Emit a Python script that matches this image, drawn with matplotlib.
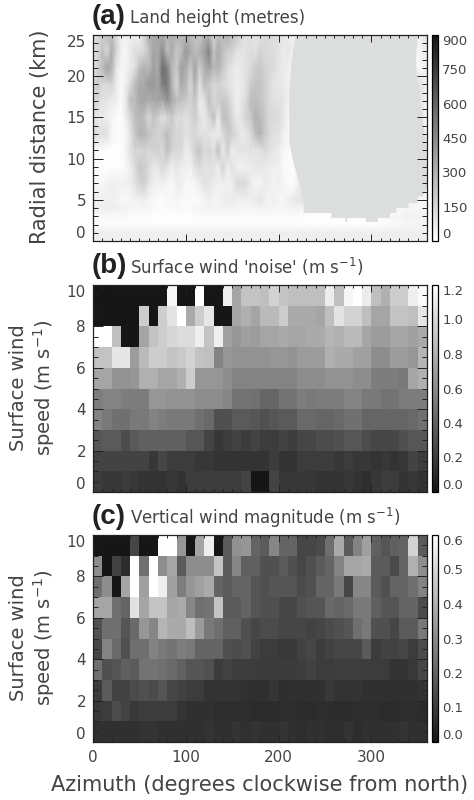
import numpy as np
import matplotlib
matplotlib.use("Agg")
import matplotlib.pyplot as plt
from matplotlib.colors import LinearSegmentedColormap

plt.rcParams['font.family'] = ['DejaVu Sans']
plt.rcParams['mathtext.default'] = 'regular'

W, H = 474, 800
TXT = '#444444'

# panel (a): land height in metres, rows are radial distance, top row first
radial_km = [25, 23, 21, 19, 17, 15, 13, 11, 9, 7, 5, 4, 3, 2, 1, 0]
azimuth_deg = [0, 5, 10, 15, 20, 25, 30, 35, 40, 45, 50, 55, 60, 65, 70, 75, 80, 85, 90, 95, 100, 105,
               110, 115, 120, 125, 130, 135, 140, 145, 150, 155, 160, 165, 170, 175, 180, 185, 190, 195, 200, 205, 210, 215,
               230, 250, 270, 290, 310, 330, 340, 350, 360]
height_m = [
    [150, 150, 170, 260, 250, 150, 70, 60, 70, 60, 60, 150, 300, 320, 340, 320, 280, 300, 300, 280, 280, 260,
     230, 210, 300, 290, 150, 250, 250, 300, 250, 210, 150, 115, 115, 95, 115, 150, 135, 115, 115, 95, 75, 60,
     130, 130, 130, 130, 130, 130, 130, 40, 100],
    [110, 150, 250, 150, 320, 170, 60, 30, 90, 130, 120, 150, 230, 350, 330, 440, 250, 330, 210, 250, 400, 330,
     250, 300, 365, 480, 230, 330, 250, 190, 170, 115, 95, 115, 135, 115, 170, 150, 135, 135, 115, 75, 95, 60,
     130, 130, 130, 130, 130, 130, 130, 30, 90],
    [95, 170, 250, 365, 290, 95, 40, 40, 75, 115, 250, 300, 270, 365, 330, 560, 480, 270, 210, 365, 330, 210,
     365, 190, 300, 365, 270, 290, 210, 135, 95, 75, 95, 115, 150, 190, 210, 170, 150, 135, 95, 75, 60, 40,
     130, 130, 130, 130, 130, 130, 130, 20, 60],
    [115, 210, 150, 150, 170, 75, 20, 60, 135, 250, 330, 330, 400, 400, 350, 500, 520, 300, 150, 330, 290, 150,
     300, 115, 250, 210, 150, 170, 150, 115, 95, 60, 75, 115, 190, 230, 230, 190, 135, 95, 95, 75, 60, 40,
     130, 130, 130, 130, 130, 130, 130, 130, 50],
    [150, 150, 115, 95, 75, 60, 20, 75, 250, 250, 330, 350, 300, 330, 350, 330, 420, 330, 250, 230, 210, 170,
     230, 75, 115, 250, 150, 190, 210, 190, 115, 60, 95, 150, 250, 250, 230, 190, 135, 115, 115, 95, 60, 20,
     130, 130, 130, 130, 130, 130, 130, 130, 40],
    [115, 75, 75, 60, 40, 20, 10, 60, 150, 250, 270, 250, 150, 230, 190, 115, 150, 210, 135, 135, 115, 150,
     190, 115, 75, 150, 250, 75, 250, 230, 150, 75, 115, 170, 210, 300, 270, 210, 150, 150, 135, 95, 40, 20,
     130, 130, 130, 130, 130, 130, 130, 130, 30],
    [130, 130, 130, 120, 40, 20, 10, 30, 100, 210, 290, 290, 240, 200, 170, 200, 250, 190, 150, 160, 110, 130,
     150, 115, 115, 95, 75, 60, 135, 210, 190, 135, 75, 95, 150, 250, 300, 210, 150, 115, 115, 60, 40, 20,
     130, 130, 130, 130, 130, 130, 130, 130, 20],
    [30, 20, 10, 5, 5, 5, 10, 40, 110, 170, 150, 170, 150, 170, 180, 150, 250, 170, 150, 150, 70, 100,
     190, 230, 135, 170, 115, 250, 75, 190, 60, 95, 115, 95, 115, 95, 115, 150, 115, 95, 75, 40, 20, 0,
     130, 130, 130, 130, 130, 130, 130, 130, 130],
    [5, 5, 5, 5, 5, 5, 10, 30, 70, 130, 210, 190, 150, 90, 100, 150, 110, 60, 100, 70, 70, 50,
     115, 150, 115, 115, 115, 60, 170, 60, 115, 60, 40, 60, 75, 95, 95, 75, 75, 60, 60, 20, 20, 10,
     130, 130, 130, 130, 130, 130, 130, 130, 130],
    [35, 35, 35, 45, 60, 60, 50, 50, 70, 110, 170, 190, 110, 70, 50, 60, 40, 30, 60, 70, 30, 30,
     40, 75, 115, 115, 75, 60, 60, 60, 60, 150, 150, 135, 75, 40, 40, 75, 60, 40, 60, 40, 20, 10,
     130, 130, 130, 130, 130, 130, 130, 130, 30],
    [60, 60, 55, 60, 60, 50, 30, 30, 40, 50, 50, 60, 40, 25, 15, 10, 30, 30, 40, 30, 30, 20,
     20, 20, 40, 60, 40, 40, 60, 75, 75, 60, 60, 60, 60, 75, 95, 60, 40, 60, 40, 40, 60, 75,
     130, 130, 130, 130, 130, 130, 30, 30, 30],
    [70, 70, 70, 70, 70, 60, 50, 50, 40, 35, 35, 40, 35, 25, 20, 15, 15, 20, 25, 25, 20, 20,
     40, 40, 50, 50, 50, 50, 50, 50, 50, 45, 45, 45, 45, 45, 50, 50, 40, 40, 40, 40, 40, 50,
     40, 20, 10, 15, 15, 25, 40, 40, 40],
    [25, 25, 25, 25, 25, 25, 25, 25, 15, 15, 15, 15, 15, 10, 10, 10, 10, 10, 10, 10, 10, 10,
     15, 15, 15, 15, 15, 15, 15, 15, 15, 15, 15, 15, 15, 15, 15, 15, 15, 15, 15, 15, 15, 15,
     10, 10, 10, 10, 20, 40, 50, 50, 50],
    [10, 10, 10, 10, 10, 10, 10, 10, 10, 10, 10, 10, 10, 10, 10, 10, 10, 10, 10, 10, 10, 10,
     10, 10, 10, 10, 10, 10, 10, 10, 10, 10, 10, 10, 10, 10, 10, 10, 10, 10, 10, 10, 10, 10,
     10, 10, 10, 10, 10, 30, 40, 40, 40],
    [70, 70, 70, 70, 70, 70, 70, 70, 70, 70, 70, 70, 70, 70, 70, 70, 70, 70, 70, 70, 70, 70,
     70, 70, 70, 70, 70, 70, 70, 70, 70, 70, 70, 70, 70, 70, 70, 70, 70, 70, 70, 70, 70, 70,
     70, 70, 70, 70, 70, 70, 70, 70, 70],
    [55, 55, 55, 55, 55, 55, 55, 55, 55, 55, 55, 55, 55, 55, 55, 55, 55, 55, 55, 55, 55, 55,
     50, 50, 50, 50, 50, 50, 50, 50, 50, 50, 50, 50, 50, 50, 50, 50, 50, 50, 50, 50, 50, 50,
     60, 60, 60, 60, 60, 60, 60, 60, 60],
]

# outline of the flat sea area in panel (a)
sea_az = [219, 214, 211.5, 211.5, 215, 220, 225, 227, 227, 257, 257, 272, 272, 274, 274, 294, 294, 307,
          307, 320, 320, 327, 327, 340, 340, 350, 350, 355, 358, 360, 360, 358, 355, 349.5, 348, 350]
sea_km = [25, 22, 18, 12, 10, 8, 6, 5, 3.4, 3.4, 2.8, 2.8, 2.3, 2.3, 2.8, 2.8, 2.3, 2.3,
          2.8, 2.8, 3.4, 3.4, 4, 4, 4.6, 4.6, 5.4, 5.4, 6, 6.5, 11, 13, 15, 20, 22, 25]

# panels (b) and (c): 10 degree azimuth bins, 1 m/s speed bins, top row first
noise = [
    [0, 0, 0, 0, 0, 0, 0, 0, 1.15, 0, 0, 1.2, 0, 0, 1.12, .74, .89, .89, .87, .97, .89, .87, .87, .87, .87, 1.10, .87, 1.15, 1.2, 1.10, .87, .79, .94, .94, 1.12, 1.17],
    [0, 0, 0, 0, 0, .94, 0, .94, 1.05, 1.2, .76, .94, 1.07, 0, 0, .74, .79, .74, .84, .84, .94, .76, .76, .76, .74, .87, 1.05, .97, .97, .87, .74, .74, .89, .89, .87, 1.07],
    [1.2, 1.2, .87, 0, 0, .74, .89, .94, .99, 1.02, 1.02, 1.12, .89, 1.12, .71, .66, .71, .69, .74, .74, .76, .74, .74, .76, .76, .82, .79, .84, .84, .74, .69, .69, .74, .74, .71, .76],
    [.89, .89, 1.07, 1.07, .69, .84, .94, .94, .89, .92, .97, .89, .87, .56, .66, .64, .64, .64, .64, .66, .66, .64, .69, .69, .69, .79, .76, .76, .71, .71, .61, .61, .69, .69, .66, .82],
    [.74, .74, .64, .64, .66, .79, .79, .74, .74, .79, .94, .66, .66, .66, .61, .56, .56, .56, .56, .56, .56, .56, .61, .61, .61, .64, .64, .64, .61, .61, .53, .53, .53, .51, .74, .79],
    [.53, .56, .56, .53, .53, .53, .66, .66, .64, .64, .64, .61, .61, .61, .58, .48, .48, .46, .41, .41, .48, .48, .53, .51, .53, .53, .53, .56, .56, .51, .51, .48, .48, .53, .53, .53],
    [.56, .51, .46, .46, .51, .51, .56, .53, .51, .51, .51, .46, .43, .30, .30, .35, .35, .33, .30, .33, .35, .35, .43, .43, .41, .41, .43, .46, .46, .41, .41, .41, .41, .41, .43, .46],
    [.33, .35, .35, .28, .35, .38, .38, .38, .38, .38, .33, .33, .23, .17, .20, .23, .20, .23, .20, .20, .23, .20, .25, .25, .28, .28, .30, .33, .33, .28, .25, .25, .25, .30, .33, .33],
    [.23, .23, .23, .23, .23, .23, .17, .25, .20, .20, .20, .17, .17, .15, .15, .15, .15, .15, .15, .20, .15, .15, .20, .20, .20, .20, .17, .20, .17, .17, .15, .17, .15, .17, .23, .20],
    [.20, .17, .17, .20, .17, .15, .15, .15, .17, .15, .20, .20, .20, .20, .20, .20, .23, 0, 0, .23, .17, .17, .17, .17, .15, .15, .15, .17, .15, .12, .17, .20, .20, .15, .17, .15],
]
vertical = [
    [0, 0, 0, 0, .125, 0, 0, .6, .6, .33, 0, .37, .56, 0, .177, .318, .33, .20, .177, .29, .20, .20, .125, .125, .138, .228, .382, .177, .28, .356, .19, .164, .19, .20, .485, .177],
    [.305, 0, .113, .06, .6, .228, .6, .305, .37, .177, .305, .305, .305, .446, .177, .29, .19, .19, .15, .15, .177, .15, .125, .15, .177, .20, .28, .37, .37, .382, .177, .177, .138, .20, .395, .305],
    [.228, .305, 0, .37, .6, .356, .6, .56, .356, .267, .33, .356, .382, .20, .177, .20, .20, .164, .15, .164, .164, .164, .138, .15, .20, .20, .254, .125, .29, .29, .177, .15, .20, .20, .228, .28],
    [.37, .37, .228, .20, .523, .37, .446, .446, .37, .382, .29, .228, .24, .446, .177, .177, .20, .164, .15, .15, .125, .125, .15, .164, .164, .215, .20, .215, .254, .254, .19, .164, .164, .20, .20, .138],
    [.15, .228, .228, .164, .215, .33, .29, .408, .382, .382, .433, .343, .254, .228, .19, .19, .15, .125, .138, .138, .125, .125, .125, .113, .125, .138, .15, .164, .228, .254, .15, .15, .125, .177, .177, .254],
    [.125, .28, .215, .15, .228, .228, .28, .254, .24, .267, .254, .20, .20, .20, .15, .138, .15, .113, .10, .10, .087, .087, .113, .125, .10, .113, .125, .125, .125, .177, .10, .113, .113, .125, .10, .138],
    [.228, .15, .164, .19, .177, .24, .24, .228, .215, .19, .164, .164, .15, .10, .113, .10, .10, .10, .095, .095, .095, .095, .10, .113, .10, .10, .105, .105, .105, .10, .10, .095, .075, .075, .087, .125],
    [.10, .177, .113, .113, .138, .15, .138, .164, .125, .113, .10, .10, .075, .075, .075, .075, .07, .07, .07, .08, .06, .07, .07, .07, .07, .087, .075, .075, .075, .07, .07, .07, .07, .07, .07, .075],
    [.087, .10, .138, .113, .087, .10, .10, .10, .10, .075, .07, .07, .07, .06, .06, .06, .06, .054, .054, .054, .06, .06, .054, .054, .06, .06, .054, .054, .06, .06, .06, .054, .054, .06, .06, .054],
    [.07, .07, .07, .07, .07, .075, .075, .07, .07, .07, .07, .07, .075, .07, .07, .075, .07, .075, .07, .07, .075, .07, .06, .07, .07, .06, .06, .075, .06, .07, .07, .07, .07, .075, .07, .07],
]

az_edges = np.arange(0, 361, 10)
speed_edges = np.arange(0, 11, 1)

up = LinearSegmentedColormap.from_list('up', ['#161616', '#ffffff'])
down = up.reversed()


def px_axes(left, top, right, bottom):
    return plt.gcf().add_axes([left / W, 1 - bottom / H, (right - left) / W, (bottom - top) / H])


def style(ax, y_major, y_minor, xlabels):
    ax.set_xlim(0, 360)
    ax.set_xticks([0, 100, 200, 300])
    ax.set_xticks(np.arange(0, 361, 10), minor=True)
    ax.set_yticks(y_major)
    ax.set_yticks(y_minor, minor=True)
    ax.tick_params(which='both', direction='in', top=True, right=True, color='#222222', width=0.7)
    ax.tick_params(axis='x', which='major', length=5)
    ax.tick_params(axis='x', which='minor', length=2)
    ax.tick_params(axis='y', which='major', length=7)
    ax.tick_params(axis='y', which='minor', length=3.5)
    ax.tick_params(axis='y', labelsize=11, labelcolor=TXT, pad=5)
    ax.tick_params(axis='x', labelsize=11, labelcolor=TXT, pad=6, labelbottom=xlabels)
    labs = ax.get_yticklabels()
    labs[0].set_va('bottom')
    labs[-1].set_va('top')
    for s in ax.spines.values():
        s.set_linewidth(0.9)
        s.set_color('#222222')


def colorbar(im, top, bottom, ticks):
    cax = px_axes(432, top, 438, bottom)
    cb = plt.gcf().colorbar(im, cax=cax)
    cb.set_ticks(ticks)
    cax.tick_params(length=0, pad=3, labelsize=9.5, labelcolor=TXT)
    labs = cax.get_yticklabels()
    labs[0].set_va('bottom')
    labs[-1].set_va('top')
    cb.outline.set_linewidth(0.9)
    return cb


fig = plt.figure(figsize=(W / 100, H / 100), dpi=100)

# panel a
ax = px_axes(93, 35, 427, 241)
im = ax.pcolormesh(azimuth_deg, radial_km, np.array(height_m, dtype=float), cmap=down, vmin=0, vmax=900, shading='gouraud')
ax.fill(sea_az, sea_km, color='#dcdedd', lw=0, zorder=2)
ax.set_ylim(0, 25)
style(ax, [0, 5, 10, 15, 20, 25], np.arange(0, 26, 1), False)
ax.set_axisbelow(False)
colorbar(im, 35, 241, [0, 150, 300, 450, 600, 750, 900])
fig.text(40 / W, 1 - 137 / H, 'Radial distance (km)', rotation=90, ha='center', va='center', fontsize=15, color=TXT)

# panel b
ax = px_axes(93, 285, 427, 492)
im = ax.pcolormesh(az_edges, speed_edges, np.array(noise)[::-1], cmap=up, vmin=0, vmax=1.2, antialiased=False)
ax.set_ylim(0, 10)
style(ax, [0, 2, 4, 6, 8, 10], np.arange(0, 10.5, 0.5), False)
colorbar(im, 285, 492, [0, 0.2, 0.4, 0.6, 0.8, 1.0, 1.2])
fig.text(33 / W, 1 - 388 / H, 'Surface wind\nspeed (m s$^{-1}$)', rotation=90, ha='center', va='center',
         fontsize=14, color=TXT, linespacing=1.15, multialignment='center')

# panel c
ax = px_axes(93, 535, 427, 742)
im = ax.pcolormesh(az_edges, speed_edges, np.array(vertical)[::-1], cmap=up, vmin=0, vmax=0.6, antialiased=False)
ax.set_ylim(0, 10)
style(ax, [0, 2, 4, 6, 8, 10], np.arange(0, 10.5, 0.5), True)
colorbar(im, 535, 742, [0, 0.1, 0.2, 0.3, 0.4, 0.5, 0.6])
fig.text(33 / W, 1 - 638 / H, 'Surface wind\nspeed (m s$^{-1}$)', rotation=90, ha='center', va='center',
         fontsize=14, color=TXT, linespacing=1.15, multialignment='center')

fig.text(260 / W, 1 - 785 / H, 'Azimuth (degrees clockwise from north)', ha='center', va='center', fontsize=15, color=TXT)

# panel headers
letters = ['(a)', '(b)', '(c)']
titles = ['Land height (metres)', "Surface wind 'noise' (m s$^{-1}$)", 'Vertical wind magnitude (m s$^{-1}$)']
heads_y = [17, 266, 517]
for let, tit, yy in zip(letters, titles, heads_y):
    fig.text(92 / W, 1 - yy / H, let, family='Liberation Sans', fontweight='bold', fontsize=20, color='#222222', ha='left', va='center')
    fig.text(130 / W, 1 - (yy + 1) / H, tit, fontsize=12, color=TXT, ha='left', va='center')

fig.savefig('out.png', dpi=100)
